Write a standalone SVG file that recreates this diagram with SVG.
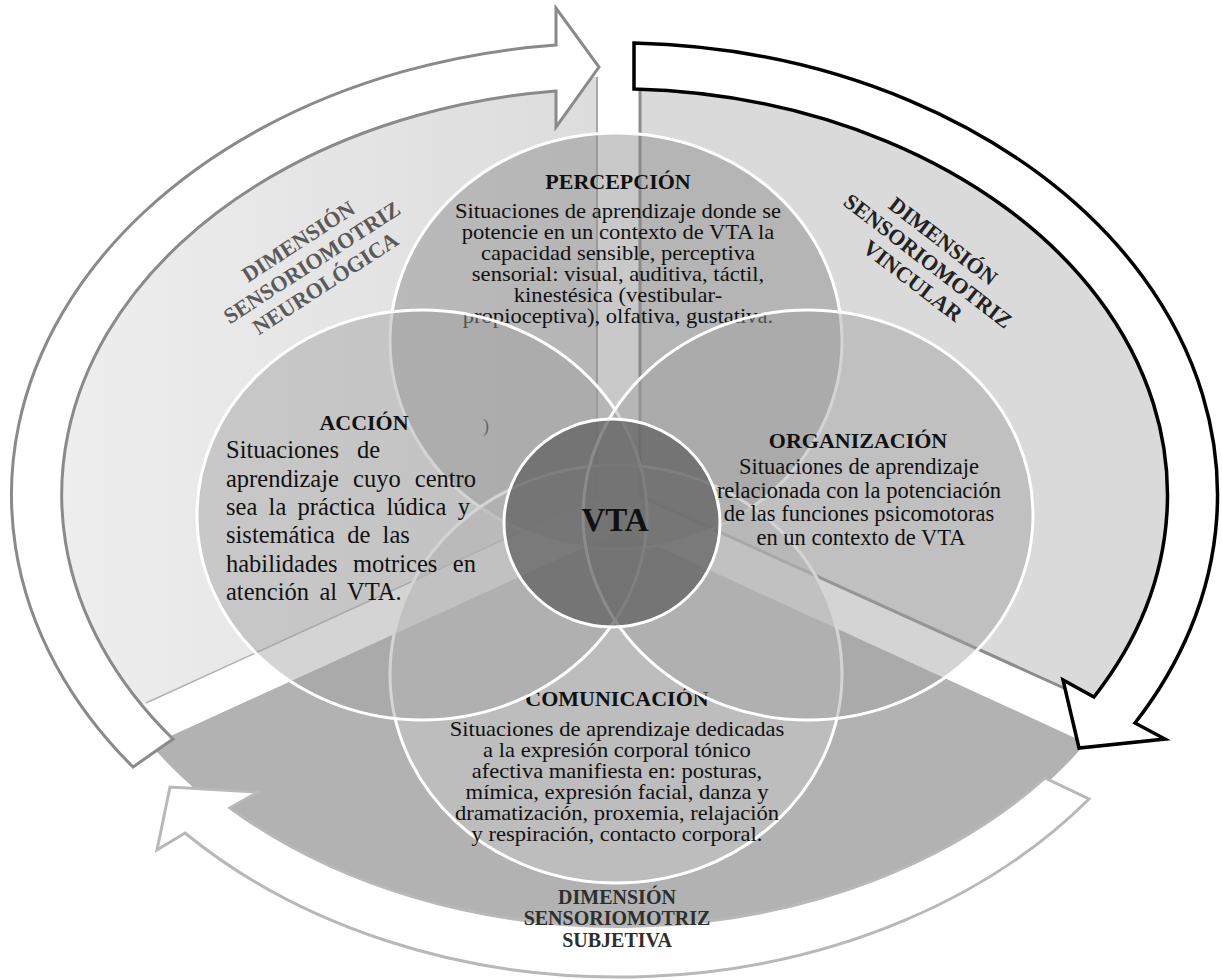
<svg xmlns="http://www.w3.org/2000/svg" width="1222" height="980" viewBox="0 0 1222 980">
<defs>
<linearGradient id="gLeft" x1="60" y1="0" x2="600" y2="0" gradientUnits="userSpaceOnUse">
<stop offset="0" stop-color="#eeeeee"/><stop offset="1" stop-color="#dcdcdc"/>
</linearGradient>
</defs>
<style>
.t{font-family:'Liberation Serif','Times New Roman',serif;fill:#111}
.b{font-weight:bold}
.c{text-anchor:middle}
.ring{stroke:#fff;stroke-width:3}
.ttl{font-size:22px;font-weight:bold}
.body{font-size:22.5px}
.sb{font-size:20.5px}
.sp{font-size:20px}
.dim{font-size:22px;font-weight:bold;text-anchor:middle}
</style>
<rect width="1222" height="980" fill="#fff"/>
<g id="sectors">
<path d="M597,77 L597,497 L131,710 A560 418 0 0 1 597,77 Z" fill="url(#gLeft)"/>
<path d="M640,77 L640,496 L1100,705 A560 418 0 0 0 640,77 Z" fill="#dadada"/>
<path d="M622,530 L1086,743 A555 413 0 0 1 151,745 Z" fill="#b2b2b2"/>
<line x1="597" y1="77" x2="597" y2="497" stroke="#a8a8a8" stroke-width="2"/>
<line x1="597" y1="497" x2="146" y2="703" stroke="#b0b0b0" stroke-width="1.5"/>
<line x1="640" y1="88" x2="640" y2="496" stroke="#8c8c8c" stroke-width="3"/>
<line x1="640" y1="496" x2="1066" y2="689" stroke="#8c8c8c" stroke-width="3"/>
</g>
<g id="connectors" fill="#fff" stroke-linejoin="miter">
<path id="arrow-left" d="M133,767 A603 452 0 0 1 556,45 L556,8 L599,67 L556,127 L556,91 A553 406 0 0 0 173,739 Z" stroke="#8a8a8a" stroke-width="3"/>
<path id="arrow-right" d="M634,43 A603 452 0 0 1 1135,723 L1165,739 L1079,748 L1063,680 L1094,697 A553 406 0 0 0 634,89 Z" stroke="#000" stroke-width="3.5"/>
<path id="arrow-bottom" d="M1089,799 A595 458 0 0 1 185,833 L157,850 L170,787 L258,792 L230,808 A555 413 0 0 0 1045,778 Z" stroke="#b8b8b8" stroke-width="3"/>
</g>
<g id="label-neurologica" class="t" transform="translate(318,272) rotate(-33)">
<text class="dim" y="-29" style="fill:#5a5a5a">DIMENSIÓN</text>
<text class="dim" y="-4" style="fill:#5a5a5a">SENSORIOMOTRIZ</text>
<text class="dim" y="21" style="fill:#5a5a5a">NEUROLÓGICA</text>
</g>
<g id="label-vincular" class="t" transform="translate(921,270) rotate(37.5)">
<text class="dim" y="-29" style="fill:#222">DIMENSIÓN</text>
<text class="dim" y="-4" style="fill:#222">SENSORIOMOTRIZ</text>
<text class="dim" y="21" style="fill:#222">VINCULAR</text>
</g>
<g id="label-subjetiva" class="t">
<text class="dim" x="617" y="904" style="font-size:20px;fill:#2e2e2e">DIMENSIÓN</text>
<text class="dim" x="617" y="925" style="font-size:20px;fill:#2e2e2e">SENSORIOMOTRIZ</text>
<text class="dim" x="617" y="947" style="font-size:20px;fill:#2e2e2e">SUBJETIVA</text>
</g>
<g id="node-percepcion">
<ellipse cx="616" cy="341" rx="226" ry="208" fill="#878787" fill-opacity="0.45" class="ring"/>
<g class="t c">
<text class="ttl" x="618" y="189">PERCEPCIÓN</text>
<g transform="translate(618,0) scale(1.13,1)">
<text class="sp" x="0" y="218">Situaciones de aprendizaje donde se</text>
<text class="sp" x="0" y="239">potencie en un contexto de VTA la</text>
<text class="sp" x="0" y="260">capacidad sensible, perceptiva</text>
<text class="sp" x="0" y="281">sensorial: visual, auditiva, táctil,</text>
<text class="sp" x="0" y="302">kinestésica (vestibular-</text>
<text class="sp" x="0" y="323">propioceptiva), olfativa, gustativa.</text>
</g>
</g>
</g>
<g id="node-comunicacion">
<ellipse cx="616" cy="674" rx="226" ry="209" fill="#c4c4c4" fill-opacity="0.6" class="ring"/>
<g class="t c">
<text class="ttl" x="617" y="706">COMUNICACIÓN</text>
<g transform="translate(617,0) scale(1.1,1)">
<text class="sb" x="0" y="736">Situaciones de aprendizaje dedicadas</text>
<text class="sb" x="0" y="757">a la expresión corporal tónico</text>
<text class="sb" x="0" y="778">afectiva manifiesta en: posturas,</text>
<text class="sb" x="0" y="799">mímica, expresión facial, danza y</text>
<text class="sb" x="0" y="820">dramatización, proxemia, relajación</text>
<text class="sb" x="0" y="841">y respiración, contacto corporal.</text>
</g>
</g>
</g>
<g id="node-accion">
<ellipse cx="422" cy="515" rx="225" ry="205" fill="#a0a0a0" fill-opacity="0.45" class="ring"/>
<g class="t">
<text class="ttl c" x="364" y="430">ACCIÓN</text>
<text x="483" y="432" style="font-size:18px;fill:#666">)</text>
<text x="226" y="458" style="font-size:24.5px;word-spacing:11.8px">Situaciones de</text>
<text x="226" y="487" style="font-size:24.5px;word-spacing:8px">aprendizaje cuyo centro</text>
<text x="226" y="515" style="font-size:24.5px;word-spacing:5.2px">sea la práctica lúdica y</text>
<text x="226" y="543" style="font-size:24.5px;word-spacing:6.2px">sistemática de las</text>
<text x="226" y="572" style="font-size:24.5px;word-spacing:9.3px">habilidades motrices en</text>
<text x="226" y="600" style="font-size:24.5px;word-spacing:4.3px">atención al VTA.</text>
</g>
</g>
<g id="node-organizacion">
<ellipse cx="808" cy="515" rx="225" ry="205" fill="#a0a0a0" fill-opacity="0.45" class="ring"/>
<g class="t c">
<text class="ttl" x="858" y="448">ORGANIZACIÓN</text>
<text class="body" x="859" y="474">Situaciones de aprendizaje</text>
<text class="body" x="859" y="498">relacionada con la potenciación</text>
<text class="body" x="859" y="521">de las funciones psicomotoras</text>
<text class="body" x="861" y="545">en un contexto de VTA</text>
</g>
</g>
<g id="node-vta">
<ellipse cx="612" cy="523" rx="108" ry="104" fill="#5e5e5e" fill-opacity="0.72" class="ring"/>
<text class="t b c" x="615" y="531" style="font-size:33px">VTA</text>
</g>
</svg>
